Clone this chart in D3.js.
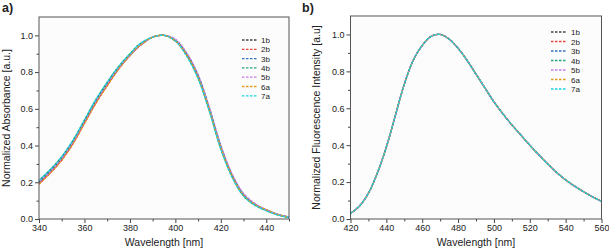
<!DOCTYPE html>
<head>
  <meta charset="utf-8">
  <title>absorbance / fluorescence</title>
  <style>
    body { margin: 0; background: #fff; }
    svg text { font-family: "Liberation Sans", Arial, sans-serif; fill: #222; }
  </style>
</head>

<script src="https://d3js.org/d3.v7.min.js"></script>

<div id="my_dataviz"></div>

<script>

  // series names + colours (legend order)
  const seriesNames = ["1b", "2b", "3b", "4b", "5b", "6a", "7a"];
  const seriesColors = ["#444444", "#e8443a", "#2f6fc4", "#23a57a", "#c77be8", "#e19a1e", "#16d2e0"];

  // panel a) absorbance, wavelength every 5 nm
  const wlAbs = [340, 345, 350, 355, 360, 365, 370, 375, 380, 385, 390, 395, 400, 405, 410, 415, 420, 425, 430, 435, 440, 445, 450];
  const abs1b = [0.20, 0.26, 0.33, 0.42, 0.53, 0.64, 0.735, 0.82, 0.89, 0.95, 0.99, 1.00, 0.97, 0.895, 0.775, 0.595, 0.39, 0.235, 0.13, 0.08, 0.05, 0.025, 0.01];
  const abs2b = [0.19, 0.25, 0.32, 0.41, 0.52, 0.63, 0.725, 0.815, 0.89, 0.95, 0.99, 1.00, 0.97, 0.895, 0.775, 0.595, 0.39, 0.235, 0.13, 0.08, 0.05, 0.025, 0.01];
  const abs3b = [0.20, 0.26, 0.33, 0.42, 0.53, 0.64, 0.735, 0.82, 0.89, 0.95, 0.99, 1.00, 0.975, 0.90, 0.785, 0.605, 0.40, 0.24, 0.135, 0.08, 0.05, 0.025, 0.01];
  const abs4b = [0.21, 0.27, 0.34, 0.43, 0.54, 0.65, 0.745, 0.83, 0.90, 0.96, 0.99, 1.00, 0.97, 0.89, 0.765, 0.585, 0.38, 0.23, 0.125, 0.075, 0.045, 0.022, 0.008];
  const abs5b = [0.20, 0.26, 0.33, 0.42, 0.53, 0.64, 0.735, 0.82, 0.89, 0.95, 0.99, 1.00, 0.98, 0.905, 0.785, 0.605, 0.40, 0.245, 0.14, 0.085, 0.05, 0.026, 0.011];
  const abs6a = [0.19, 0.25, 0.32, 0.41, 0.52, 0.63, 0.725, 0.815, 0.89, 0.95, 0.99, 1.00, 0.97, 0.895, 0.775, 0.595, 0.39, 0.235, 0.13, 0.08, 0.05, 0.025, 0.01];
  const abs7a = [0.21, 0.27, 0.34, 0.43, 0.54, 0.65, 0.745, 0.83, 0.90, 0.96, 0.99, 1.00, 0.97, 0.885, 0.765, 0.585, 0.38, 0.225, 0.125, 0.075, 0.045, 0.022, 0.008];
  const absSeries = [abs1b, abs2b, abs3b, abs4b, abs5b, abs6a, abs7a];

  // panel b) fluorescence (all 7 curves overlap)
  const wlFlu = [420, 425, 430, 435, 440, 445, 450, 455, 460, 465, 470, 475, 480, 485, 490, 495, 500, 505, 510, 515, 520, 525, 530, 535, 540, 545, 550, 555, 560];
  const flu = [0.03, 0.07, 0.14, 0.25, 0.39, 0.56, 0.73, 0.86, 0.94, 0.99, 1.00, 0.975, 0.925, 0.86, 0.785, 0.71, 0.635, 0.57, 0.51, 0.455, 0.40, 0.348, 0.298, 0.252, 0.212, 0.178, 0.148, 0.12, 0.096];

  const xTicksAbs = [340, 360, 380, 400, 420, 440];
  const xTicksFlu = [420, 440, 460, 480, 500, 520, 540, 560];
  const yTicks = [0, 0.2, 0.4, 0.6, 0.8, 1.0];

  const svg = d3.select("#my_dataviz")
    .append("svg")
      .attr("width", 609)
      .attr("height", 252);

  function panel(p) {
    const x = d3.scaleLinear().domain(p.xDomain).range([p.left, p.right]);
    const y = d3.scaleLinear().domain([0, 1.1]).range([p.bottom, p.top]);
    const g = svg.append("g");

    // plot area
    g.append("rect")
      .attr("x", p.left).attr("y", p.top)
      .attr("width", p.right - p.left).attr("height", p.bottom - p.top)
      .attr("fill", "#fcfcfc");

    // minor ticks
    const xMinor = d3.range(p.xDomain[0], p.xDomain[1] + 0.1, 10).filter(v => !p.xTicks.includes(v));
    g.append("g")
      .attr("transform", `translate(0,${p.bottom})`)
      .call(d3.axisBottom(x).tickValues(xMinor).tickSize(2.5).tickFormat(""))
      .call(a => a.select(".domain").remove())
      .selectAll("line").attr("stroke", "#444");
    g.append("g")
      .attr("transform", `translate(${p.left},0)`)
      .call(d3.axisLeft(y).tickValues([0.1, 0.3, 0.5, 0.7, 0.9]).tickSize(2.5).tickFormat(""))
      .call(a => a.select(".domain").remove())
      .selectAll("line").attr("stroke", "#444");

    // major ticks
    const xa = g.append("g")
      .attr("transform", `translate(0,${p.bottom})`)
      .call(d3.axisBottom(x).tickValues(p.xTicks).tickSize(4).tickPadding(2).tickSizeOuter(0));
    xa.select(".domain").remove();
    xa.selectAll("line").attr("stroke", "#444");
    xa.selectAll("text").attr("font-size", 9).style("font-family", "Liberation Sans, Arial, sans-serif").attr("fill", "#222");

    const ya = g.append("g")
      .attr("transform", `translate(${p.left},0)`)
      .call(d3.axisLeft(y).tickValues(yTicks).tickFormat(d3.format(".1f")).tickSize(4).tickPadding(2).tickSizeOuter(0));
    ya.select(".domain").remove();
    ya.selectAll("line").attr("stroke", "#444");
    ya.selectAll("text").attr("font-size", 9).style("font-family", "Liberation Sans, Arial, sans-serif").attr("fill", "#222");

    // curves
    const line = d3.line()
      .x(d => x(d[0]))
      .y(d => y(d[1]))
      .curve(d3.curveCatmullRom.alpha(0.5));

    p.series.forEach((vals, i) => {
      g.append("path")
        .datum(p.wl.map((w, k) => [w, vals[k]]))
        .attr("fill", "none")
        .attr("stroke", seriesColors[i])
        .attr("stroke-width", 1.3)
        .attr("stroke-dasharray", "2.5,1.5")
        .attr("stroke-dashoffset", i * 0.6)
        .attr("d", line);
    });

    // frame
    g.append("rect")
      .attr("x", p.left).attr("y", p.top)
      .attr("width", p.right - p.left).attr("height", p.bottom - p.top)
      .attr("fill", "none")
      .attr("stroke", "#555")
      .attr("stroke-width", 1);

    // legend
    seriesNames.forEach((name, i) => {
      const ly = p.legY + i * p.legStep;
      g.append("line")
        .attr("x1", p.legX).attr("x2", p.legX + p.legLen)
        .attr("y1", ly).attr("y2", ly)
        .attr("stroke", seriesColors[i])
        .attr("stroke-width", 1.3)
        .attr("stroke-dasharray", "2.5,1.5");
      g.append("text")
        .attr("x", p.legX + p.legLen + 4)
        .attr("y", ly + 3)
        .attr("font-size", 8)
        .text(name);
    });

    // titles
    g.append("text")
      .attr("x", (p.left + p.right) / 2)
      .attr("y", 246)
      .attr("text-anchor", "middle")
      .attr("font-size", 10.5)
      .text("Wavelength [nm]");

    g.append("text")
      .attr("transform", `translate(${p.yTitleX},${(p.top + p.bottom) / 2}) rotate(-90)`)
      .attr("text-anchor", "middle")
      .attr("font-size", 10.5)
      .text(p.yTitle);

    g.append("text")
      .attr("x", p.tagX)
      .attr("y", 12)
      .attr("font-size", 12.5)
      .attr("font-weight", "bold")
      .text(p.tag);
  }

  panel({
    xDomain: [340, 450], xTicks: xTicksAbs, wl: wlAbs, series: absSeries,
    left: 39, right: 289, top: 17, bottom: 219,
    legX: 242, legY: 40, legStep: 9.3, legLen: 15,
    yTitle: "Normalized Absorbance [a.u.]", yTitleX: 10, tag: "a)", tagX: 2
  });

  panel({
    xDomain: [420, 560], xTicks: xTicksFlu, wl: wlFlu, series: seriesNames.map(() => flu),
    left: 350.5, right: 601.5, top: 16, bottom: 219,
    legX: 551, legY: 32, legStep: 9.5, legLen: 16,
    yTitle: "Normalized Fluorescence Intensity [a.u]", yTitleX: 320, tag: "b)", tagX: 302
  });

</script>
